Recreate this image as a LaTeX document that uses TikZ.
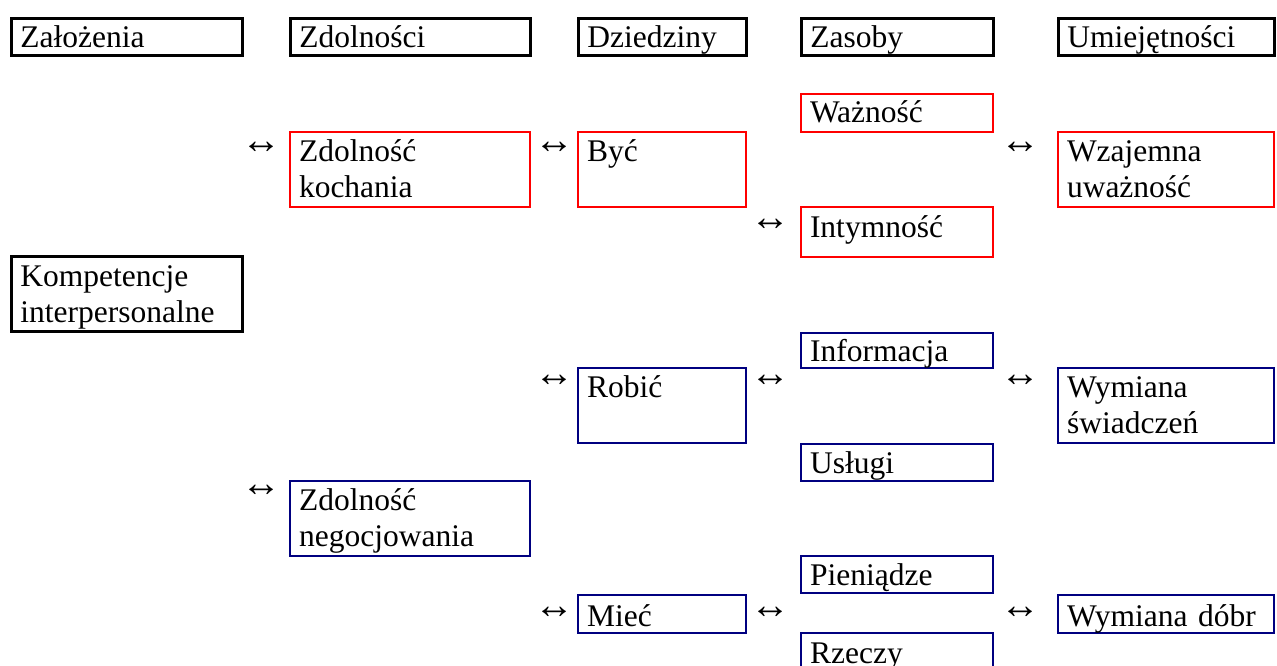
\documentclass[tikz,border=0pt]{standalone}
\usepackage{fontspec}
\setmainfont{Liberation Serif}
\definecolor{boxred}{RGB}{255,0,0}
\definecolor{boxnavy}{RGB}{0,0,128}
\newcommand{\ta}[1]{\rule{0pt}{#1pt}}
\newcommand{\td}[1]{\rule[-#1pt]{0pt}{#1pt}}
\begin{document}
\begin{tikzpicture}[x=1pt,y=-1pt,
  box/.style={draw, rectangle, anchor=north west, inner xsep=9pt, inner ysep=0pt,
    align=left, font=\fontsize{31.5}{36.5}\selectfont},
  blk/.style={box, line width=2.6pt, draw=black},
  rd/.style={box, line width=2pt, draw=boxred},
  nv/.style={box, line width=2.2pt, draw=boxnavy},
  colA/.style={minimum width=231pt, text width=213pt},
  colB/.style={minimum width=240pt, text width=222pt},
  colC/.style={minimum width=168pt, text width=150pt},
  colD/.style={minimum width=192pt, text width=174pt},
  colE/.style={minimum width=216pt, text width=198pt},
  hgt/.style={minimum height=#1},
  arr/.style={font=\fontsize{40}{40}\selectfont, inner sep=0pt}
]
\useasboundingbox (0,0) rectangle (1277,666);
\clip (0,0) rectangle (1277,666);
% headers
\node[blk,colA,hgt=37] (zal) at (10,17) {\ta{29}Założenia\td{8}};
\node[blk,colB,hgt=37] (zdo) at (289,17) {\ta{29}Zdolności\td{8}};
\node[blk,colC,hgt=37] (dzi) at (577,17) {\ta{29}Dziedziny\td{8}};
\node[blk,colD,hgt=37] (zas) at (800,17) {\ta{29}Zasoby\td{8}};
\node[blk,colE,hgt=37] (umi) at (1057,17) {\ta{29}Umiejętności\td{8}};
% red group
\node[rd,colD,hgt=38] (waz) at (800,93) {\ta{29}Ważność\td{9}};
\node[rd,colB,hgt=75] (zk) at (289,131) {\ta{29}Zdolność\\kochania\td{9.5}};
\node[rd,colC,hgt=75] (byc) at (577,131) {\ta{29}Być\td{46}};
\node[rd,colE,hgt=75] (wu) at (1057,131) {\ta{29}Wzajemna\\uważność\td{9.5}};
\node[rd,colD,hgt=50] (int) at (800,206) {\ta{30}Intymność\td{20}};
% kompetencje
\node[blk,colA,hgt=75] (kom) at (10,255) {\ta{30}Kompetencje\\interpersonalne\td{8.5}};
% navy group
\node[nv,colD,hgt=35] (inf) at (800,332) {\ta{28}Informacja\td{7}};
\node[nv,colC,hgt=75] (rob) at (577,367) {\ta{29}Robić\td{46}};
\node[nv,colE,hgt=75] (ws) at (1057,367) {\ta{29}Wymiana\\świadczeń\td{9.5}};
\node[nv,colD,hgt=37] (usl) at (800,443) {\ta{29}Usługi\td{8}};
\node[nv,colB,hgt=75] (zn) at (289,480) {\ta{29}Zdolność\\negocjowania\td{9.5}};
\node[nv,colD,hgt=37] (pie) at (800,555) {\ta{29}Pieniądze\td{8}};
\node[nv,colC,hgt=38] (mie) at (577,594) {\ta{31}Mieć\td{7}};
\node[nv,colE,hgt=38] (wd) at (1057,594) {\ta{31}Wymiana dóbr\td{7}};
\node[nv,colD,hgt=50] (rze) at (800,632) {\ta{30}Rzeczy\td{20}};
% arrows
\node[arr] (a1) at (261,148) {↔};
\node[arr] (a2) at (554,148) {↔};
\node[arr] (a3) at (1020,148) {↔};
\node[arr] (a4) at (770,225) {↔};
\node[arr] (a5) at (554,381) {↔};
\node[arr] (a6) at (770,381) {↔};
\node[arr] (a7) at (1020,381) {↔};
\node[arr] (a8) at (261,491) {↔};
\node[arr] (a9) at (554,613) {↔};
\node[arr] (a10) at (770,613) {↔};
\node[arr] (a11) at (1020,613) {↔};
\end{tikzpicture}
\end{document}
